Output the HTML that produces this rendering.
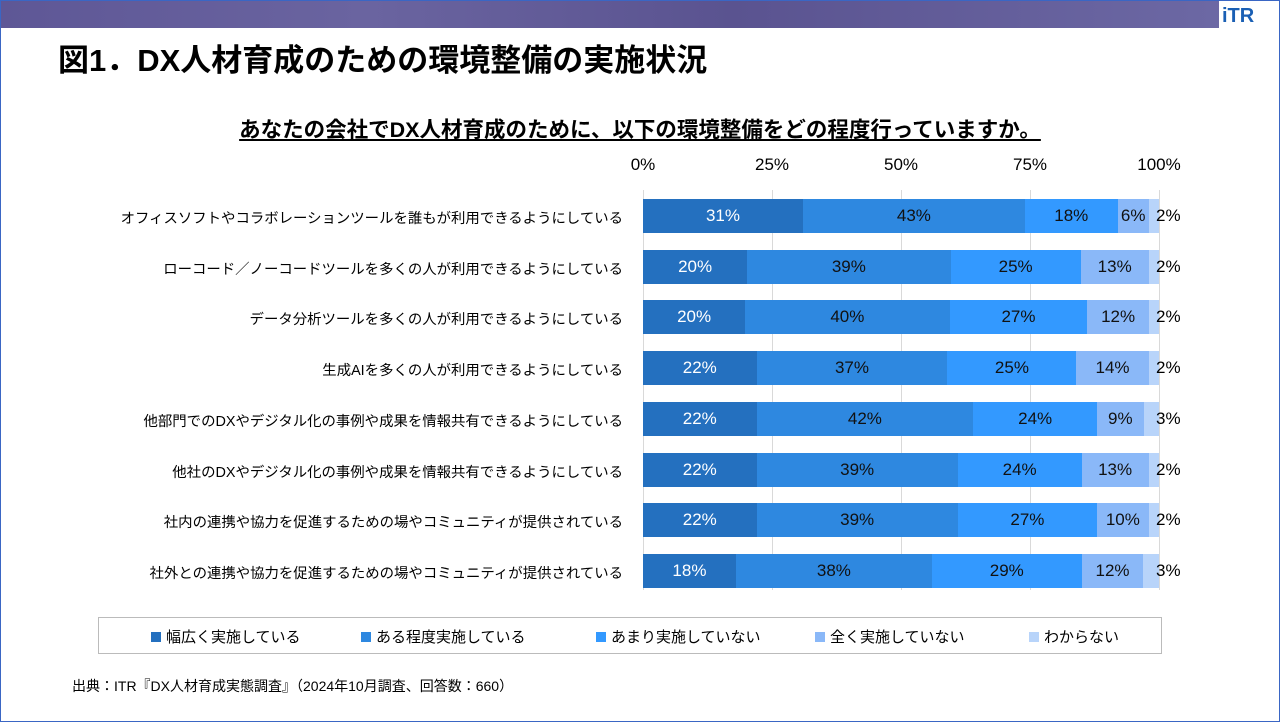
<!DOCTYPE html><html><head><meta charset="utf-8"><style>
body{margin:0;width:1280px;height:722px;background:#fff;font-family:"Liberation Sans","Noto Sans CJK JP",sans-serif;position:relative;overflow:hidden}
.frame{position:absolute;left:0;top:0;width:1278px;height:720px;border:1px solid #3a66c4}
.banner{position:absolute;left:1px;top:1px;width:1218px;height:27px;background:linear-gradient(90deg,#5e5796,#6a64a0 30%,#5a5390 60%,#6c68a4);}
.logo{position:absolute;left:1222px;top:5px;font-weight:bold;font-size:20px;color:#1a5fb4}
.t1{position:absolute;left:58px;top:35px;font-size:31px;font-weight:bold}
.t2{position:absolute;left:0;width:1280px;text-align:center;top:113px;font-size:21.5px;font-weight:bold;text-decoration:underline}
.tick{position:absolute;top:155px;font-size:17px;transform:translateX(-50%)}
.grid{position:absolute;top:190px;height:400px;width:1px;background:#d9d9d9}
.lab{position:absolute;right:657px;font-size:14.4px;white-space:nowrap}
.bar{position:absolute;left:643px;height:34px;display:flex}
.bar div{height:100%;display:flex;align-items:center;justify-content:center;font-size:17px;color:#111;white-space:nowrap}
.out{position:absolute;left:1156px;font-size:17px}
.leg{position:absolute;left:98px;top:617px;width:1062px;height:35px;border:1px solid #bbb;font-size:15px}
.leg span{position:absolute;top:8px}
.leg i{display:inline-block;width:10px;height:10px;margin-right:5px}
.src{position:absolute;left:72px;top:676px;font-size:14px}
</style></head><body>
<div class="frame"></div><div class="banner"></div><div class="logo">iTR</div>
<div class="t1">図1．DX人材育成のための環境整備の実施状況</div>
<div class="t2">あなたの会社でDX人材育成のために、以下の環境整備をどの程度行っていますか。</div>
<div class="tick" style="left:643px">0%</div><div class="tick" style="left:772px">25%</div><div class="tick" style="left:901px">50%</div><div class="tick" style="left:1030px">75%</div><div class="tick" style="left:1159px">100%</div>
<div class="grid" style="left:643px"></div><div class="grid" style="left:772px"></div><div class="grid" style="left:901px"></div><div class="grid" style="left:1030px"></div><div class="grid" style="left:1159px"></div>
<div id="rows"></div>
<div class="leg">
<span style="left:52px"><i style="background:#2470bf"></i>幅広く実施している</span>
<span style="left:262px"><i style="background:#2e88e0"></i>ある程度実施している</span>
<span style="left:497px"><i style="background:#3399ff"></i>あまり実施していない</span>
<span style="left:716px"><i style="background:#8ab8f8"></i>全く実施していない</span>
<span style="left:930px"><i style="background:#b8d4fa"></i>わからない</span>
</div>
<div class="src">出典：ITR『DX人材育成実態調査』（2024年10月調査、回答数：660）</div>
<script>
var L=["オフィスソフトやコラボレーションツールを誰もが利用できるようにしている","ローコード／ノーコードツールを多くの人が利用できるようにしている","データ分析ツールを多くの人が利用できるようにしている","生成AIを多くの人が利用できるようにしている","他部門でのDXやデジタル化の事例や成果を情報共有できるようにしている","他社のDXやデジタル化の事例や成果を情報共有できるようにしている","社内の連携や協力を促進するための場やコミュニティが提供されている","社外との連携や協力を促進するための場やコミュニティが提供されている"];
var D=[[31,43,18,6,2],[20,39,25,13,2],[20,40,27,12,2],[22,37,25,14,2],[22,42,24,9,3],[22,39,24,13,2],[22,39,27,10,2],[18,38,29,12,3]];
var C=["#2470bf","#2e88e0","#3399ff","#8ab8f8","#b8d4fa"];
var h="";
for(var i=0;i<8;i++){var y=199+i*50.7;var s=D[i].reduce((a,b)=>a+b);
h+='<div class="lab" style="top:'+(y+8)+'px">'+L[i]+'</div><div class="bar" style="top:'+y+'px">';
for(var j=0;j<5;j++){var w=D[i][j]/s*516;h+='<div style="width:'+w+'px;background:'+C[j]+(j==0?';color:#fff':'')+'">'+(j<4?D[i][j]+'%':'')+'</div>';}
h+='</div><div class="out" style="top:'+(y+7)+'px">'+D[i][4]+'%</div>';}
document.getElementById('rows').innerHTML=h;
</script>
</body></html>
